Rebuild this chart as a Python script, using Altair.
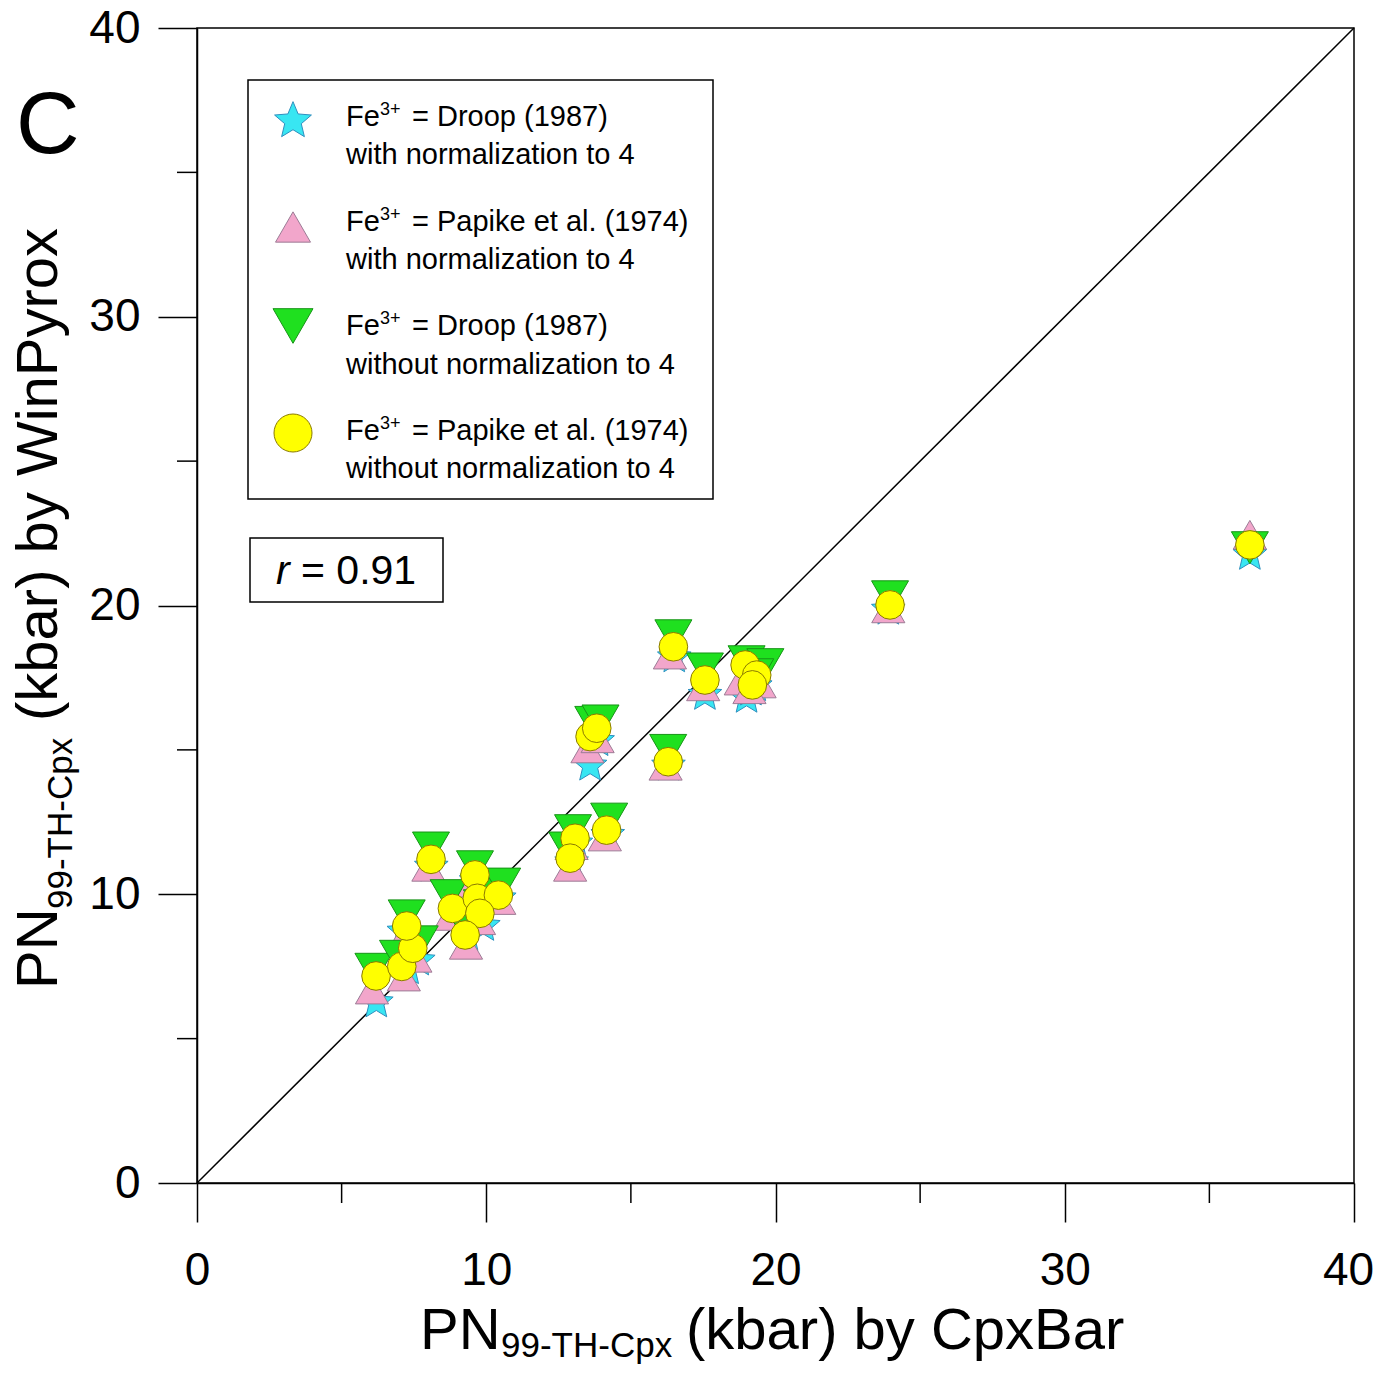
import math
import altair as alt
import pandas as pd

# ---------------- data (kbar) ----------------
# Fe3+ = Droop (1987), with normalization to 4  (cyan stars)
droop_norm_x = [6.20, 7.30, 7.65, 7.15, 8.10, 8.95, 9.65, 9.90, 10.45, 9.80, 9.35,
                16.50, 17.56, 19.00, 19.30, 19.15, 13.59, 13.85, 16.30, 13.10, 14.20, 12.95,
                23.90, 36.40]
droop_norm_y = [6.25, 7.40, 7.70, 8.70, 10.95, 9.30, 10.45, 8.90, 9.85, 9.20, 8.55,
                18.20, 16.90, 16.80, 17.20, 17.05, 14.45, 15.30, 14.45, 11.75, 12.05, 11.10,
                19.85, 21.75]
# Fe3+ = Papike et al. (1974), with normalization to 4  (pink triangles)
papike_norm_x = [6.05, 7.15, 7.55, 7.20, 8.00, 8.75, 9.50, 9.60, 10.45, 9.75, 9.30,
                 16.35, 17.50, 18.80, 19.45, 19.10, 13.50, 13.85, 16.20, 12.95, 14.10, 12.90,
                 23.90, 36.40]
papike_norm_y = [6.70, 7.15, 7.80, 8.60, 10.95, 9.25, 10.40, 9.55, 9.80, 9.10, 8.25,
                 18.30, 17.20, 17.40, 17.30, 17.10, 15.05, 15.40, 14.45, 11.70, 12.00, 10.95,
                 19.90, 22.45]
# Fe3+ = Droop (1987), without normalization to 4  (green inverted triangles)
droop_raw_x = [6.10, 6.95, 7.70, 7.25, 8.09, 8.70, 9.61, 9.75, 10.55, 9.85, 9.30,
               16.47, 17.56, 19.00, 19.65, 19.30, 13.70, 13.95, 16.29, 13.00, 14.25, 12.80,
               23.96, 36.40]
droop_raw_y = [7.40, 7.85, 8.35, 9.25, 11.60, 9.95, 10.95, 10.15, 10.35, 9.60, 8.85,
               18.95, 17.80, 18.05, 17.95, 17.60, 15.95, 16.00, 14.98, 12.20, 12.60, 11.60,
               20.30, 22.00]
# Fe3+ = Papike et al. (1974), without normalization to 4  (yellow circles)
papike_raw_x = [6.19, 7.08, 7.46, 7.25, 8.09, 8.83, 9.61, 9.69, 10.42, 9.78, 9.27,
                16.47, 17.56, 18.95, 19.35, 19.20, 13.59, 13.82, 16.29, 13.07, 14.16, 12.90,
                23.96, 36.40]
papike_raw_y = [7.17, 7.50, 8.13, 8.90, 11.21, 9.51, 10.67, 9.86, 9.97, 9.34, 8.59,
                18.57, 17.42, 17.94, 17.59, 17.25, 15.46, 15.75, 14.59, 11.94, 12.22, 11.25,
                20.02, 22.10]

diag = [0, 40]
major_ticks = [0, 10, 20, 30, 40]
minor_ticks = [5, 15, 25, 35]
r_value = "= 0.91"

legend_line1 = ["Droop (1987)", "Papike et al. (1974)", "Droop (1987)", "Papike et al. (1974)"]
legend_line2 = ["with normalization to 4", "with normalization to 4",
                "without normalization to 4", "without normalization to 4"]

# ---------------- styling ----------------
FONT = "Liberation Sans, Arial, Helvetica, sans-serif"
W, H = 1157, 1155


def star_path(n=5, r_out=1.0, r_in=0.45):
    pts = []
    for k in range(2 * n):
        r = r_out if k % 2 == 0 else r_in
        a = math.pi * k / n
        pts.append((r * math.sin(a), -r * math.cos(a)))
    return "M" + " L".join(f"{x:.4f},{y:.4f}" for x, y in pts) + " Z"


STAR = star_path()
styles = {
    "star": dict(shape=STAR, fill="#38E6F2", stroke="#2F8FBF"),
    "tri": dict(shape="triangle-up", fill="#F2A6CB", stroke="#9C7C96"),
    "tridown": dict(shape="triangle-down", fill="#1FE01F", stroke="#179417"),
    "circle": dict(shape="circle", fill="#FFFF00", stroke="#8A7A00"),
}

xs = alt.Scale(domain=[0, 40], nice=False, zero=False)
ys = alt.Scale(domain=[0, 40], nice=False, zero=False)
x_axis = alt.Axis(values=major_ticks, tickSize=39, tickWidth=1.5, tickColor="black",
                  domainColor="black", domainWidth=1.5, labelFontSize=46, labelFont=FONT,
                  labelColor="black", labelPadding=26, grid=False, title="",
                  labelFlush=False, labelOverlap=False, format="d",
                  labelOffset={"condition": {"test": "datum.value === 40", "value": -6}, "value": 0})
y_axis = alt.Axis(values=major_ticks, tickSize=39, tickWidth=1.5, tickColor="black",
                  domainColor="black", domainWidth=1.5, labelFontSize=46, labelFont=FONT,
                  labelColor="black", labelPadding=18, grid=False, title="",
                  labelFlush=False, labelOverlap=False, format="d")

layers = []

# 1:1 line
layers.append(
    alt.Chart(pd.DataFrame({"x": diag, "y": diag})).mark_line(color="black", strokeWidth=1.5)
    .encode(x=alt.X("x:Q", scale=xs, axis=x_axis), y=alt.Y("y:Q", scale=ys, axis=y_axis))
)

# minor ticks
layers.append(
    alt.Chart(pd.DataFrame({"v": minor_ticks})).mark_rule(color="black", strokeWidth=1.5)
    .encode(x=alt.X("v:Q", scale=xs, axis=x_axis), y=alt.value(H), y2=alt.value(H + 20))
)
layers.append(
    alt.Chart(pd.DataFrame({"v": minor_ticks})).mark_rule(color="black", strokeWidth=1.5)
    .encode(y=alt.Y("v:Q", scale=ys, axis=y_axis), x=alt.value(-20), x2=alt.value(0))
)


def series(xv, yv, key, size):
    st = styles[key]
    return alt.Chart(pd.DataFrame({"x": xv, "y": yv})).mark_point(
        shape=st["shape"], filled=True, fill=st["fill"], stroke=st["stroke"],
        strokeWidth=1, size=size, opacity=1, fillOpacity=1, strokeOpacity=1
    ).encode(x=alt.X("x:Q", scale=xs, axis=x_axis), y=alt.Y("y:Q", scale=ys, axis=y_axis))


layers.append(series(droop_norm_x, droop_norm_y, "star", 1250))
layers.append(series(papike_norm_x, papike_norm_y, "tri", 1100))
layers.append(series(droop_raw_x, droop_raw_y, "tridown", 1370))
layers.append(series(papike_raw_x, papike_raw_y, "circle", 820))

# ---------------- legend (drawn) ----------------
layers.append(
    alt.Chart(pd.DataFrame({"a": [0]})).mark_rect(fill="white", stroke="black", strokeWidth=1.5)
    .encode(x=alt.value(51), x2=alt.value(516), y=alt.value(52), y2=alt.value(471))
)
leg_keys = ["star", "tri", "tridown", "circle"]
leg_sizes = [1500, 1225, 1600, 1444]
leg_sym_y = [93, 199, 298, 405]
for i, key in enumerate(leg_keys):
    st = styles[key]
    layers.append(
        alt.Chart(pd.DataFrame({"a": [0]})).mark_point(
            shape=st["shape"], filled=True, fill=st["fill"], stroke=st["stroke"],
            strokeWidth=1, size=leg_sizes[i], opacity=1
        ).encode(x=alt.value(96), y=alt.value(leg_sym_y[i]))
    )
    y1 = 98 + i * 104.7
    x0 = 149
    common = dict(font=FONT, align="left", baseline="alphabetic", color="black")
    layers.append(alt.Chart(pd.DataFrame({"a": [0]})).mark_text(text="Fe", fontSize=29, **common)
                  .encode(x=alt.value(x0), y=alt.value(y1)))
    layers.append(alt.Chart(pd.DataFrame({"a": [0]})).mark_text(text="3+", fontSize=18, **common)
                  .encode(x=alt.value(x0 + 34), y=alt.value(y1 - 11)))
    layers.append(alt.Chart(pd.DataFrame({"a": [0]})).mark_text(text="= " + legend_line1[i], fontSize=29, **common)
                  .encode(x=alt.value(x0 + 66), y=alt.value(y1)))
    layers.append(alt.Chart(pd.DataFrame({"a": [0]})).mark_text(text=legend_line2[i], fontSize=29, **common)
                  .encode(x=alt.value(x0), y=alt.value(y1 + 38.3)))

# r box
layers.append(
    alt.Chart(pd.DataFrame({"a": [0]})).mark_rect(fill="white", stroke="black", strokeWidth=1.5)
    .encode(x=alt.value(53), x2=alt.value(246), y=alt.value(510), y2=alt.value(574))
)
layers.append(alt.Chart(pd.DataFrame({"a": [0]})).mark_text(
    text="r", fontSize=41, fontStyle="italic", font=FONT, align="left", baseline="alphabetic", color="black")
    .encode(x=alt.value(79), y=alt.value(556)))
layers.append(alt.Chart(pd.DataFrame({"a": [0]})).mark_text(
    text=r_value, fontSize=41, font=FONT, align="left", baseline="alphabetic", color="black")
    .encode(x=alt.value(104), y=alt.value(556)))

# ---------------- axis titles ----------------
tcommon = dict(font=FONT, baseline="alphabetic", color="black", align="left")
# x title
layers.append(alt.Chart(pd.DataFrame({"a": [0]})).mark_text(text="PN", fontSize=58, **tcommon)
              .encode(x=alt.value(223), y=alt.value(1321)))
layers.append(alt.Chart(pd.DataFrame({"a": [0]})).mark_text(text="99-TH-Cpx", fontSize=35, **tcommon)
              .encode(x=alt.value(304), y=alt.value(1329)))
layers.append(alt.Chart(pd.DataFrame({"a": [0]})).mark_text(text="(kbar) by CpxBar", fontSize=58, **tcommon)
              .encode(x=alt.value(489), y=alt.value(1321)))
# y title (rotated)
layers.append(alt.Chart(pd.DataFrame({"a": [0]})).mark_text(text="PN", fontSize=58, angle=270, **tcommon)
              .encode(x=alt.value(-140), y=alt.value(961)))
layers.append(alt.Chart(pd.DataFrame({"a": [0]})).mark_text(text="99-TH-Cpx", fontSize=35, angle=270, **tcommon)
              .encode(x=alt.value(-125), y=alt.value(881)))
layers.append(alt.Chart(pd.DataFrame({"a": [0]})).mark_text(text="(kbar) by WinPyrox", fontSize=58, angle=270, **tcommon)
              .encode(x=alt.value(-140), y=alt.value(693)))

# panel letter
layers.append(alt.Chart(pd.DataFrame({"a": [0]})).mark_text(text="C", fontSize=88, **tcommon)
              .encode(x=alt.value(-181), y=alt.value(125)))

chart = alt.layer(*layers).properties(
    width=W, height=H,
    padding={"left": 189, "top": 20, "right": 20, "bottom": 183},
    autosize=alt.AutoSizeParams(type="none"),
    background="white",
).configure_view(stroke="black", strokeWidth=1.5)

chart.save("out.html", embed_options={"renderer": "svg", "actions": False})
